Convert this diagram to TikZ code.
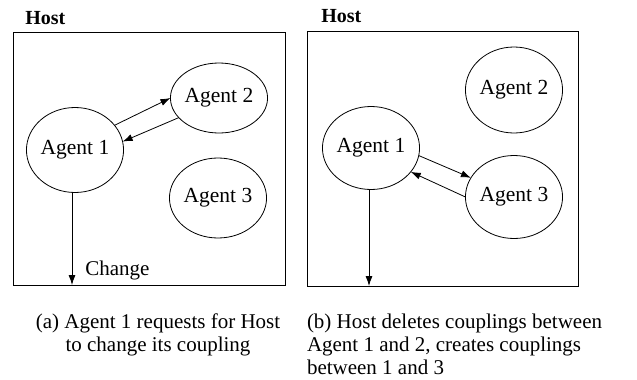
\documentclass[tikz,border=0pt]{standalone}
\usepackage{fontspec}
\setmainfont{Liberation Serif}
\usetikzlibrary{shapes.geometric,arrows.meta}

\begin{document}
\begin{tikzpicture}[x=1pt,y=-1pt,
  every node/.style={outer sep=0pt},
  agent/.style={draw, ellipse, inner sep=0pt, line width=0.8pt, font=\fontsize{21.5}{24}\selectfont},
  hostbox/.style={draw, line width=1pt},
  hostlabel/.style={anchor=base west, font=\bfseries\fontsize{20}{24}\selectfont},
  link/.style={-{Latex[length=10pt,width=7pt]}, line width=0.8pt},
  caption/.style={inner sep=0pt, font=\fontsize{21}{23}\selectfont}]
\useasboundingbox (0,0) rectangle (637,380);

% left panel
\draw[hostbox] (13,32) rectangle (285,285);
\node[hostlabel] (hostA) at (22,24) {Host};
\node[agent, minimum width=95pt, minimum height=85pt] (a1) at (75,150) {Agent 1};
\node[agent, minimum width=93pt, minimum height=70pt] (a2) at (219,98) {Agent 2};
\node[agent, minimum width=93pt, minimum height=80pt] (a3) at (218,198) {Agent 3};
\coordinate (downA) at (72,285);
\draw[link] (a1.32) -- (a2.180);
\draw[link] (a2.206) -- (a1.10);
\draw[link] (a1.south -| downA) -- (downA);
\node[anchor=base west, font=\fontsize{21}{24}\selectfont] (chg) at (82,275) {Change};

% right panel
\draw[hostbox] (307,31) rectangle (578,286);
\node[hostlabel] (hostB) at (318,23) {Host};
\node[agent, minimum width=94pt, minimum height=83pt] (b1) at (371,148) {Agent 1};
\node[agent, minimum width=93pt, minimum height=86pt] (b2) at (514,90) {Agent 2};
\node[agent, minimum width=93pt, minimum height=83pt] (b3) at (514,197) {Agent 3};
\coordinate (downB) at (369,286);
\draw[link] (b1.-9) -- (b3.156);
\draw[link] (b3.180) -- (b1.-31);
\draw[link] (b1.south -| downB) -- (downB);

% captions
\node[caption, anchor=north, align=center] (capA) at (158,314) {(a) Agent 1 requests for Host\\to change its coupling};
\node[caption, anchor=north west, align=left] (capB) at (307,314) {(b) Host deletes couplings between\\Agent 1 and 2, creates couplings\\between 1 and 3};
\end{tikzpicture}
\end{document}
